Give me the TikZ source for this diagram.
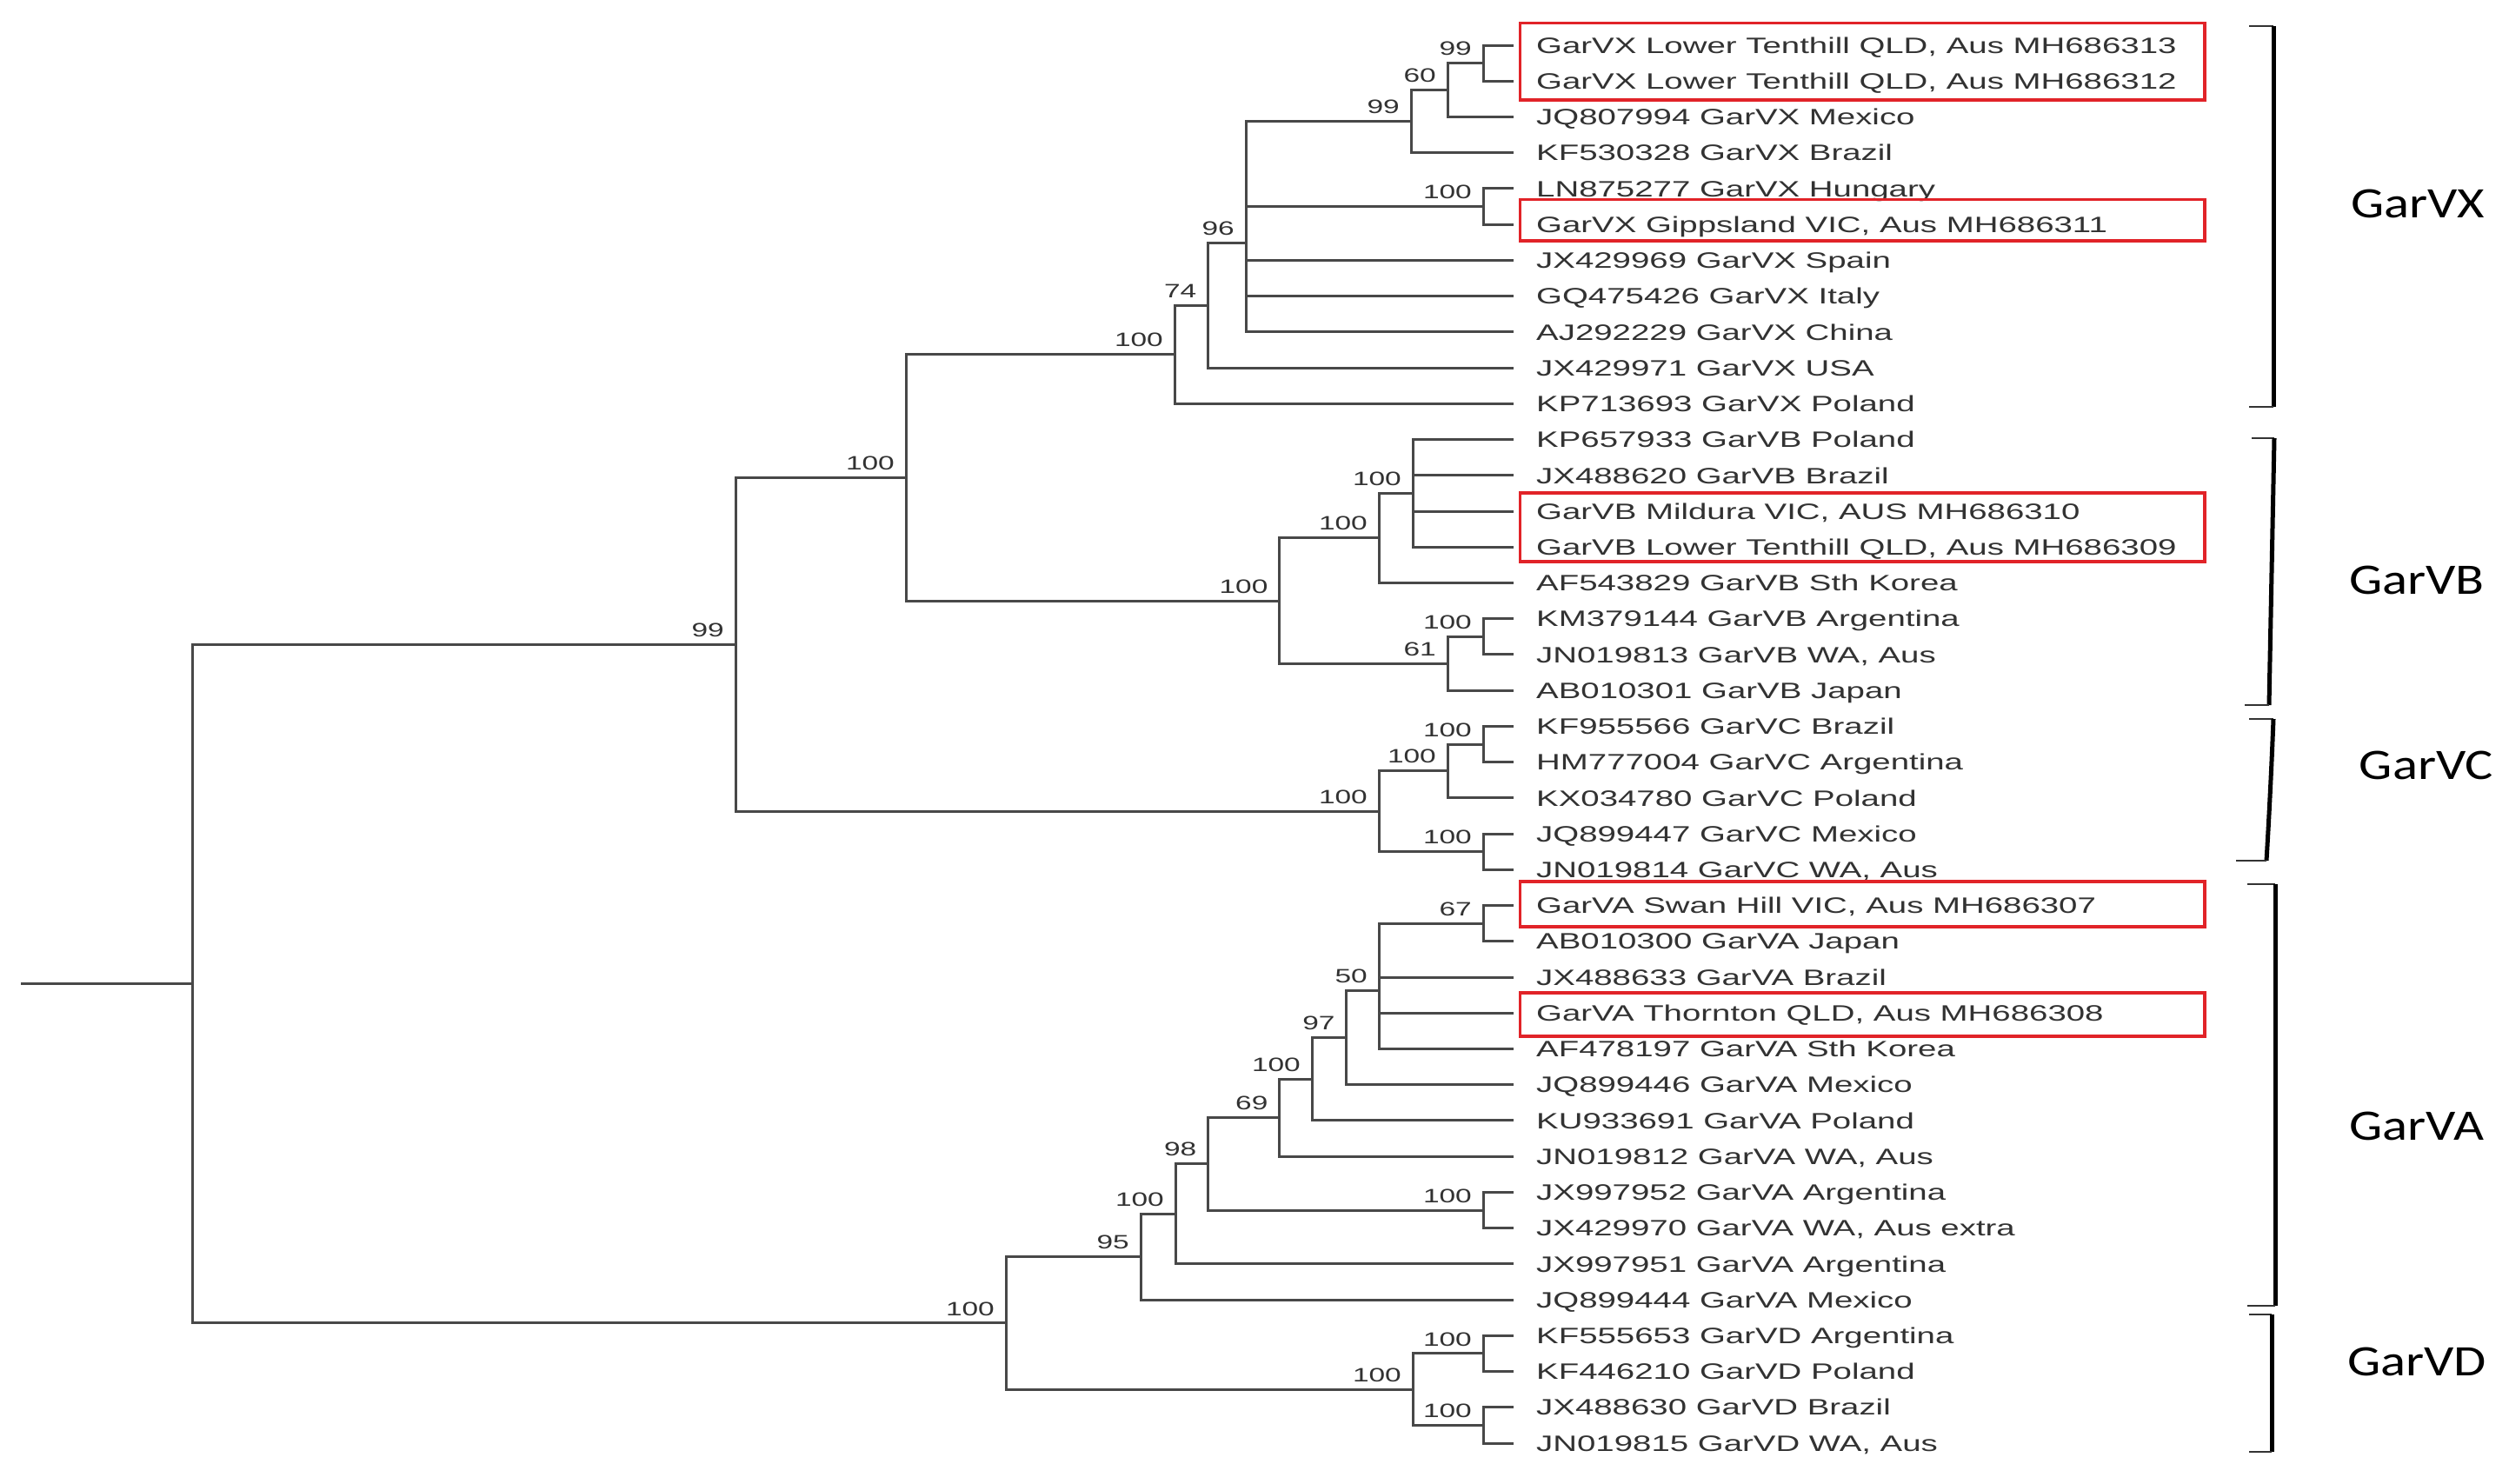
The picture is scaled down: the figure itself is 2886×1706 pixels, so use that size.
\documentclass[tikz,border=0pt]{standalone}
\usepackage{fontspec}
\usepackage{graphicx}
\setmainfont{Liberation Sans}
\newfontfamily\carlito{Carlito}
\usetikzlibrary{calc}
\definecolor{treegray}{RGB}{72,72,72}
\definecolor{labgray}{RGB}{50,50,50}
\definecolor{boxred}{RGB}{225,35,40}
\newcommand{\sx}[1]{\scalebox{1.5}[1]{#1}}
\newcommand{\sxc}[1]{\scalebox{1.21}[1]{#1}}
\newcommand{\grp}[4]{\draw[br] (#1 |- #2) -- (#1 |- #3);\foreach \kid in {#4} {\draw[br] (#1 |- \kid) -- (\kid);}}
\tikzset{
  br/.style={draw=treegray, line width=3pt, line cap=rect},
  leaflab/.style={anchor=base west, inner sep=0pt, font=\fontsize{25.6}{30}\selectfont, text=labgray},
  boot/.style={anchor=south east, inner sep=0pt, font=\fontsize{22.3}{26}\selectfont, text=labgray},
  redbox/.style={draw=boxred, line width=3.5pt},
  brkv/.style={draw=black, line width=5pt},
  brkt/.style={draw=black!80, line width=2.5pt},
  cladelab/.style={anchor=base, inner sep=0pt, font=\carlito\fontsize{50}{56}\selectfont, text=black}
}
\begin{document}
\begin{tikzpicture}[x=1pt,y=-1pt]
\useasboundingbox (0,0) rectangle (2886,1706);
\fill[white] (0,0) rectangle (2886,1706);
% leaves
\foreach \i/\yy/\txt in {
 1/52.0/{GarVX Lower Tenthill QLD, Aus MH686313},
 2/93.2/{GarVX Lower Tenthill QLD, Aus MH686312},
 3/134.5/{JQ807994 GarVX Mexico},
 4/175.7/{KF530328 GarVX Brazil},
 5/216.9/{LN875277 GarVX Hungary},
 6/258.2/{GarVX Gippsland VIC, Aus MH686311},
 7/299.4/{JX429969 GarVX Spain},
 8/340.6/{GQ475426 GarVX Italy},
 9/381.8/{AJ292229 GarVX China},
 10/423.1/{JX429971 GarVX USA},
 11/464.3/{KP713693 GarVX Poland},
 12/505.5/{KP657933 GarVB Poland},
 13/546.8/{JX488620 GarVB Brazil},
 14/588.0/{GarVB Mildura VIC, AUS MH686310},
 15/629.2/{GarVB Lower Tenthill QLD, Aus MH686309},
 16/670.4/{AF543829 GarVB Sth Korea},
 17/711.7/{KM379144 GarVB Argentina},
 18/752.9/{JN019813 GarVB WA, Aus},
 19/794.1/{AB010301 GarVB Japan},
 20/835.4/{KF955566 GarVC Brazil},
 21/876.6/{HM777004 GarVC Argentina},
 22/917.8/{KX034780 GarVC Poland},
 23/959.1/{JQ899447 GarVC Mexico},
 24/1000.3/{JN019814 GarVC WA, Aus},
 25/1041.5/{GarVA Swan Hill VIC, Aus MH686307},
 26/1082.7/{AB010300 GarVA Japan},
 27/1124.0/{JX488633 GarVA Brazil},
 28/1165.2/{GarVA Thornton QLD, Aus MH686308},
 29/1206.4/{AF478197 GarVA Sth Korea},
 30/1247.7/{JQ899446 GarVA Mexico},
 31/1288.9/{KU933691 GarVA Poland},
 32/1330.1/{JN019812 GarVA WA, Aus},
 33/1371.3/{JX997952 GarVA Argentina},
 34/1412.6/{JX429970 GarVA WA, Aus extra},
 35/1453.8/{JX997951 GarVA Argentina},
 36/1495.0/{JQ899444 GarVA Mexico},
 37/1536.3/{KF555653 GarVD Argentina},
 38/1577.5/{KF446210 GarVD Poland},
 39/1618.7/{JX488630 GarVD Brazil},
 40/1660.0/{JN019815 GarVD WA, Aus}}
{
  \coordinate (l\i) at (1739,\yy);
  \node[leaflab] (t\i) at (1767,\yy+9.2) {\sx{\txt}};
}
% internal nodes
\coordinate (a1) at (1706,72.6);
\coordinate (a2) at (1665,103.8);
\coordinate (a3) at (1623,139.8);
\coordinate (a4) at (1706,237.6);
\coordinate (a5) at (1433,279.8);
\coordinate (a6) at (1389.5,351.5);
\coordinate (a7) at (1351,407.9);
\coordinate (b1) at (1625,567.4);
\coordinate (b2) at (1586,618.9);
\coordinate (b3) at (1706,732.3);
\coordinate (b4) at (1665,763.2);
\coordinate (b5) at (1471.6,691.0);
\coordinate (x1) at (1042,549.5);
\coordinate (c1) at (1706,856.0);
\coordinate (c2) at (1665,886.9);
\coordinate (c3) at (1706,979.7);
\coordinate (c4) at (1586,933.3);
\coordinate (x2) at (846,741.4);
\coordinate (d1) at (1706,1062.1);
\coordinate (d2) at (1586,1139.4);
\coordinate (d3) at (1548.7,1193.5);
\coordinate (d4) at (1509,1241.2);
\coordinate (d5) at (1471.6,1285.7);
\coordinate (d6) at (1706,1392.0);
\coordinate (d7) at (1389.5,1338.8);
\coordinate (d8) at (1352,1396.3);
\coordinate (d9) at (1312,1445.7);
\coordinate (e1) at (1706,1556.9);
\coordinate (e2) at (1706,1639.4);
\coordinate (e3) at (1625,1598.1);
\coordinate (x3) at (1157,1521.9);
\coordinate (root) at (221,1131.7);
\coordinate (stem) at (25,1131.7);
% branches
\grp{a1}{l1}{l2}{l1,l2}
\grp{a2}{a1}{l3}{a1,l3}
\grp{a3}{a2}{l4}{a2,l4}
\grp{a4}{l5}{l6}{l5,l6}
\grp{a5}{a3}{l9}{a3,a4,l7,l8,l9}
\grp{a6}{a5}{l10}{a5,l10}
\grp{a7}{a6}{l11}{a6,l11}
\grp{b1}{l12}{l15}{l12,l13,l14,l15}
\grp{b2}{b1}{l16}{b1,l16}
\grp{b3}{l17}{l18}{l17,l18}
\grp{b4}{b3}{l19}{b3,l19}
\grp{b5}{b2}{b4}{b2,b4}
\grp{x1}{a7}{b5}{a7,b5}
\grp{c1}{l20}{l21}{l20,l21}
\grp{c2}{c1}{l22}{c1,l22}
\grp{c3}{l23}{l24}{l23,l24}
\grp{c4}{c2}{c3}{c2,c3}
\grp{x2}{x1}{c4}{x1,c4}
\grp{d1}{l25}{l26}{l25,l26}
\grp{d2}{d1}{l29}{d1,l27,l28,l29}
\grp{d3}{d2}{l30}{d2,l30}
\grp{d4}{d3}{l31}{d3,l31}
\grp{d5}{d4}{l32}{d4,l32}
\grp{d6}{l33}{l34}{l33,l34}
\grp{d7}{d5}{d6}{d5,d6}
\grp{d8}{d7}{l35}{d7,l35}
\grp{d9}{d8}{l36}{d8,l36}
\grp{e1}{l37}{l38}{l37,l38}
\grp{e2}{l39}{l40}{l39,l40}
\grp{e3}{e1}{e2}{e1,e2}
\grp{x3}{d9}{e3}{d9,e3}
\grp{root}{x2}{x3}{x2,x3}
\draw[br] (stem) -- (root);
% bootstrap values
\foreach \n/\v in {a1/99,a2/60,a3/99,a4/100,a5/96,a6/74,a7/100,b1/100,b2/100,b3/100,b4/61,b5/100,x1/100,c1/100,c2/100,c3/100,c4/100,x2/99,d1/67,d2/50,d3/97,d4/100,d5/69,d6/100,d7/98,d8/100,d9/95,e1/100,e2/100,e3/100,x3/100}
{
  \node[boot] (bs\n) at ($(\n)+(-13,-8.5)$) {\sx{\v}};
}
% red boxes
\draw[redbox] (1748.5,26.5) rectangle (2536,115);
\draw[redbox] (1748.5,229.5) rectangle (2536,277);
\draw[redbox] (1748.5,567) rectangle (2536,646);
\draw[redbox] (1748.5,1014) rectangle (2536,1066);
\draw[redbox] (1748.5,1142) rectangle (2536,1192);
% brackets
\draw[brkt] (2587,30) -- (2615,30);
\draw[brkv] (2615,30) -- (2615,468);
\draw[brkt] (2587,468) -- (2615,468);
\draw[brkt] (2590,504) -- (2616,504);
\draw[brkv] (2616,504) -- (2610,811);
\draw[brkt] (2582,811) -- (2610,811);
\draw[brkt] (2587,827) -- (2615,827);
\draw[brkv] (2615,827) .. controls (2613,880) and (2610,940) .. (2607,990);
\draw[brkt] (2572,990) -- (2607,990);
\draw[brkt] (2585,1017) -- (2617,1017);
\draw[brkv] (2617,1017) -- (2617,1502);
\draw[brkt] (2585,1502) -- (2617,1502);
\draw[brkt] (2587,1512) -- (2613,1512);
\draw[brkv] (2613,1512) -- (2613,1670);
\draw[brkt] (2587,1670) -- (2613,1670);
% clade labels
\node[cladelab] (gvx) at (2781,250) {\sxc{GarVX}};
\node[cladelab] (gvb) at (2780,683) {\sxc{GarVB}};
\node[cladelab] (gvc) at (2791,896) {\sxc{GarVC}};
\node[cladelab] (gva) at (2780,1311) {\sxc{GarVA}};
\node[cladelab] (gvd) at (2780,1582) {\sxc{GarVD}};
\end{tikzpicture}
\end{document}
